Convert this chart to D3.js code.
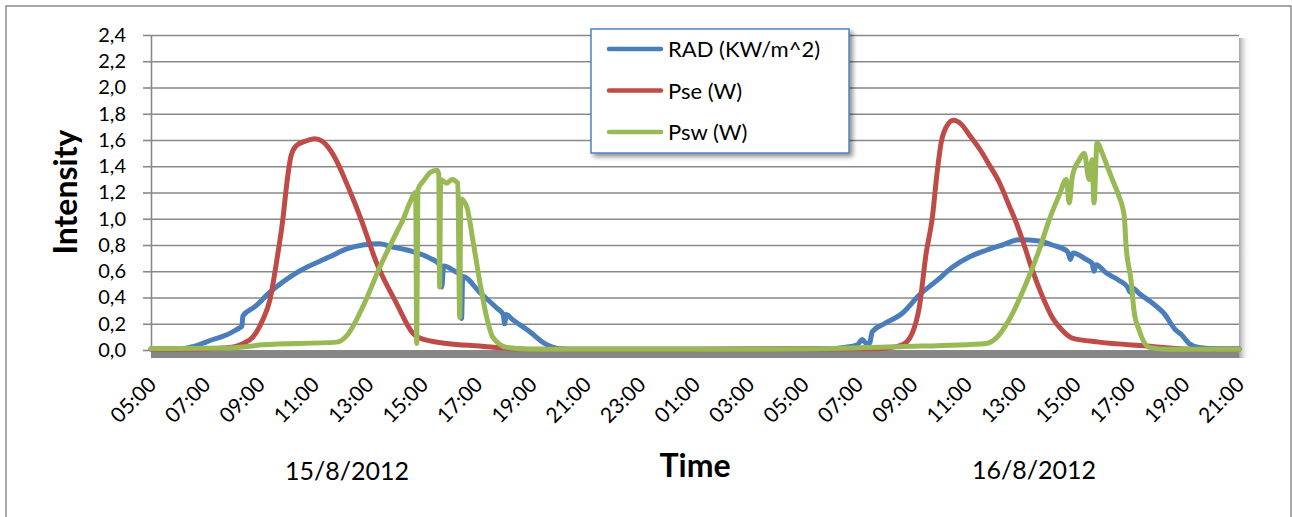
<!DOCTYPE html>
<html>
<head>
<meta charset="utf-8">
<script src="https://cdn.jsdelivr.net/npm/d3@7/dist/d3.min.js"></script>
<style>
  html, body { margin: 0; padding: 0; background: #fff; }
  svg { display: block; font-family: Lato, "Open Sans", sans-serif; }
</style>
</head>
<body>
<svg id="chart" width="1292" height="517"></svg>
<script>
// ---- DATA (t = hours since 05:00 on 15/8/2012) ----
const xTickValues = [0,2,4,6,8,10,12,14,16,18,20,22,24,26,28,30,32,34,36,38,40];
const xTickLabels = ["05:00","07:00","09:00","11:00","13:00","15:00","17:00","19:00","21:00","23:00","01:00","03:00","05:00","07:00","09:00","11:00","13:00","15:00","17:00","19:00","21:00"];
const yTickValues = [0,0.2,0.4,0.6,0.8,1.0,1.2,1.4,1.6,1.8,2.0,2.2,2.4];
const yTickLabels = ["0,0","0,2","0,4","0,6","0,8","1,0","1,2","1,4","1,6","1,8","2,0","2,2","2,4"];
const seriesNames = ["RAD (KW/m^2)", "Pse (W)", "Psw (W)"];
const dateLabels = ["15/8/2012", "16/8/2012"];

const radData = [
  [0,0.01],[1.07,0.01],[1.62,0.03],[2.28,0.08],[2.72,0.11],[3.1,0.15],[3.27,0.17],[3.34,0.18],[3.38,0.26],[3.82,0.33],
  [4.37,0.44],[5.36,0.59],[6.57,0.71],[7.2,0.77],[7.79,0.80],[8.41,0.81],[8.78,0.79],[9.62,0.75],[10.25,0.70],
  [10.61,0.65],[10.69,0.48],[10.76,0.64],[11.17,0.60],[11.39,0.57],[11.42,0.24],[11.46,0.56],[12.08,0.44],
  [12.71,0.32],[12.95,0.27],[13.0,0.20],[13.06,0.27],[13.30,0.23],[13.92,0.14],[14.47,0.05],[15.02,0.01],
  [15.76,0.005],[20,0.005],[24.94,0.01],[25.49,0.02],[25.97,0.04],[26.15,0.08],[26.3,0.05],[26.41,0.05],
  [26.52,0.14],[26.96,0.20],[27.62,0.28],[28.25,0.42],[28.9,0.53],[29.46,0.63],[30.1,0.71],[30.71,0.76],[31.3,0.80],[31.92,0.84],
  [32.65,0.83],[33.13,0.80],[33.7,0.75],[33.8,0.69],[33.9,0.74],[34.38,0.69],[34.6,0.66],[34.67,0.60],[34.75,0.65],
  [35.1,0.59],[35.59,0.53],[35.9,0.48],[36.0,0.44],[36.1,0.47],[36.33,0.43],[36.8,0.36],[37.24,0.28],[37.68,0.15],
  [37.87,0.12],[38.16,0.05],[38.53,0.02],[39.2,0.01],[40,0.01]
];
const pseData = [
  [0,0.005],[1.8,0.008],[2.9,0.02],[3.4,0.05],[3.75,0.10],[4.11,0.23],[4.37,0.38],[4.63,0.69],[4.85,1.0],
  [5.0,1.28],[5.15,1.48],[5.36,1.56],[5.66,1.59],[6.02,1.61],[6.3,1.59],[6.57,1.53],[6.85,1.43],[7.13,1.30],
  [7.49,1.12],[7.75,0.98],[8.30,0.66],[9.04,0.35],[9.62,0.13],[9.88,0.09],[10.87,0.05],[12.08,0.03],[13.30,0.01],
  [14.29,0.005],[20,0.005],[26.78,0.01],[27.62,0.04],[27.99,0.13],[28.25,0.33],[28.50,0.74],[28.72,1.0],
  [28.9,1.35],[29.05,1.58],[29.24,1.70],[29.5,1.75],[29.79,1.72],[30.08,1.64],[30.5,1.52],[30.82,1.41],
  [31.18,1.28],[31.55,1.10],[31.81,0.97],[32.1,0.80],[32.4,0.61],[32.75,0.42],[33.13,0.25],[33.5,0.15],
  [33.87,0.09],[34.86,0.06],[36.59,0.03],[37.80,0.01],[38.5,0.005],[40,0.005]
];
const pswData = [
  [0,0.01],[2.9,0.015],[4.11,0.04],[6.83,0.06],[7.2,0.11],[7.79,0.33],[8.41,0.63],[9.04,0.90],[9.26,0.99],
  [9.51,1.12],[9.73,1.20],[9.77,0.05],[9.81,1.22],[10.06,1.30],[10.25,1.35],[10.51,1.37],[10.58,1.34],
  [10.61,0.48],[10.65,1.30],[10.87,1.27],[11.06,1.30],[11.28,1.27],[11.35,0.25],[11.39,1.15],[11.61,1.09],
  [11.83,0.84],[12.08,0.53],[12.34,0.25],[12.56,0.10],[13.08,0.02],[13.92,0.005],[20,0.005],[24,0.008],
  [27.51,0.025],[30.71,0.05],[31.07,0.09],[31.55,0.23],[32.18,0.51],[32.65,0.76],[33.02,0.99],[33.39,1.18],
  [33.65,1.30],[33.76,1.12],[33.87,1.32],[34.13,1.45],[34.31,1.50],[34.49,1.30],[34.60,1.45],[34.67,1.12],
  [34.78,1.58],[34.97,1.50],[35.12,1.42],[35.34,1.30],[35.59,1.17],[35.78,1.02],[35.85,0.79],[36.03,0.53],
  [36.14,0.30],[36.33,0.15],[36.70,0.02],[37.43,0.005],[40,0.005]
];

// ---- LAYOUT ----
const svg = d3.select("#chart");
const L = 151, R = 1239, T = 35, B = 350;
const x = d3.scaleLinear().domain([0, 40]).range([L, R]);
const y = d3.scaleLinear().domain([0, 2.4]).range([B, T]);
const colors = ["#4a7ebb", "#be4b48", "#98b954"];

const defs = svg.append("defs");
const sg = defs.append("linearGradient").attr("id", "shadowR").attr("x1", 0).attr("x2", 1).attr("y1", 0).attr("y2", 0);
sg.append("stop").attr("offset", "0%").attr("stop-color", "#999").attr("stop-opacity", 0.9);
sg.append("stop").attr("offset", "100%").attr("stop-color", "#fff").attr("stop-opacity", 0);
const flt = defs.append("filter").attr("id", "legShadow").attr("x", "-10%").attr("y", "-10%").attr("width", "130%").attr("height", "130%");
flt.append("feGaussianBlur").attr("in", "SourceAlpha").attr("stdDeviation", 2.5);
flt.append("feOffset").attr("dx", 3).attr("dy", 3).attr("result", "b");
flt.append("feComponentTransfer").append("feFuncA").attr("type", "linear").attr("slope", 0.45);
const fm = flt.append("feMerge");
fm.append("feMergeNode");
fm.append("feMergeNode").attr("in", "SourceGraphic");

// outer frame
svg.append("rect").attr("x", 6).attr("y", 6).attr("width", 1285).attr("height", 530)
  .attr("fill", "#fff").attr("stroke", "#8c8c8c").attr("stroke-width", 1.5);

// plot shadow (right side) and floor
svg.append("rect").attr("x", R).attr("y", T + 3).attr("width", 11).attr("height", B - T + 5).attr("fill", "url(#shadowR)");
svg.append("rect").attr("x", L).attr("y", B).attr("width", R - L).attr("height", 8).attr("fill", "#878787");

// gridlines
svg.append("g").attr("transform", `translate(${L},0)`)
  .call(d3.axisLeft(y).tickValues(yTickValues.slice(1)).tickSize(-(R - L)).tickFormat(""))
  .call(g => g.select(".domain").remove())
  .call(g => g.selectAll("line").attr("stroke", "#898989").attr("stroke-width", 1.6));

// y axis
const yAxis = svg.append("g").attr("transform", `translate(${L},0)`)
  .call(d3.axisLeft(y).tickValues(yTickValues).tickSize(8).tickSizeOuter(0).tickPadding(17)
    .tickFormat((d, i) => yTickLabels[i]));
yAxis.select(".domain").attr("stroke", "#898989").attr("stroke-width", 1.6);
yAxis.selectAll("line").attr("stroke", "#898989").attr("stroke-width", 1.6);
yAxis.selectAll("text").attr("font-size", 20).attr("fill", "#000").attr("font-family", "Lato");

// x axis labels (rotated)
const xAxis = svg.append("g").attr("transform", `translate(0,${B + 8})`)
  .call(d3.axisBottom(x).tickValues(xTickValues).tickSize(0).tickFormat((d, i) => xTickLabels[i]));
xAxis.select(".domain").remove();
xAxis.selectAll("text")
  .attr("font-size", 21).attr("fill", "#000").attr("font-family", "Lato")
  .attr("text-anchor", "end")
  .attr("dy", 0).attr("y", 0)
  .attr("transform", "translate(6,28) rotate(-45)");

// series lines
const line = d3.line().x(d => x(d[0])).y(d => y(d[1])).curve(d3.curveMonotoneX);
[radData, pseData, pswData].forEach((data, i) => {
  svg.append("path").datum(data).attr("d", line)
    .attr("fill", "none").attr("stroke", colors[i]).attr("stroke-width", 5)
    .attr("stroke-linejoin", "round").attr("stroke-linecap", "round");
});

// axis titles
svg.append("text").attr("transform", "translate(77,192) rotate(-90)").attr("text-anchor", "middle")
  .attr("font-size", 32).attr("font-weight", "bold").attr("font-family", "Lato").text("Intensity");
svg.append("text").attr("x", 695).attr("y", 477).attr("text-anchor", "middle")
  .attr("font-size", 32).attr("font-weight", "bold").attr("font-family", "Lato").text("Time");
svg.append("text").attr("x", 347).attr("y", 480).attr("text-anchor", "middle")
  .attr("font-size", 25).attr("font-family", "Lato").text(dateLabels[0]);
svg.append("text").attr("x", 1034).attr("y", 479).attr("text-anchor", "middle")
  .attr("font-size", 25).attr("font-family", "Lato").text(dateLabels[1]);

// legend
const leg = svg.append("g");
leg.append("rect").attr("x", 591).attr("y", 29).attr("width", 258).attr("height", 124)
  .attr("fill", "#fff").attr("stroke", "#4f81bd").attr("stroke-width", 1.5).attr("filter", "url(#legShadow)");
seriesNames.forEach((name, i) => {
  const ly = 49 + i * 41.5;
  leg.append("line").attr("x1", 609).attr("x2", 661).attr("y1", ly).attr("y2", ly)
    .attr("stroke", colors[i]).attr("stroke-width", 4.5).attr("stroke-linecap", "round");
  leg.append("text").attr("x", 668).attr("y", ly + 8).attr("font-size", 22).attr("font-family", "Lato").text(name);
});
</script>
</body>
</html>
